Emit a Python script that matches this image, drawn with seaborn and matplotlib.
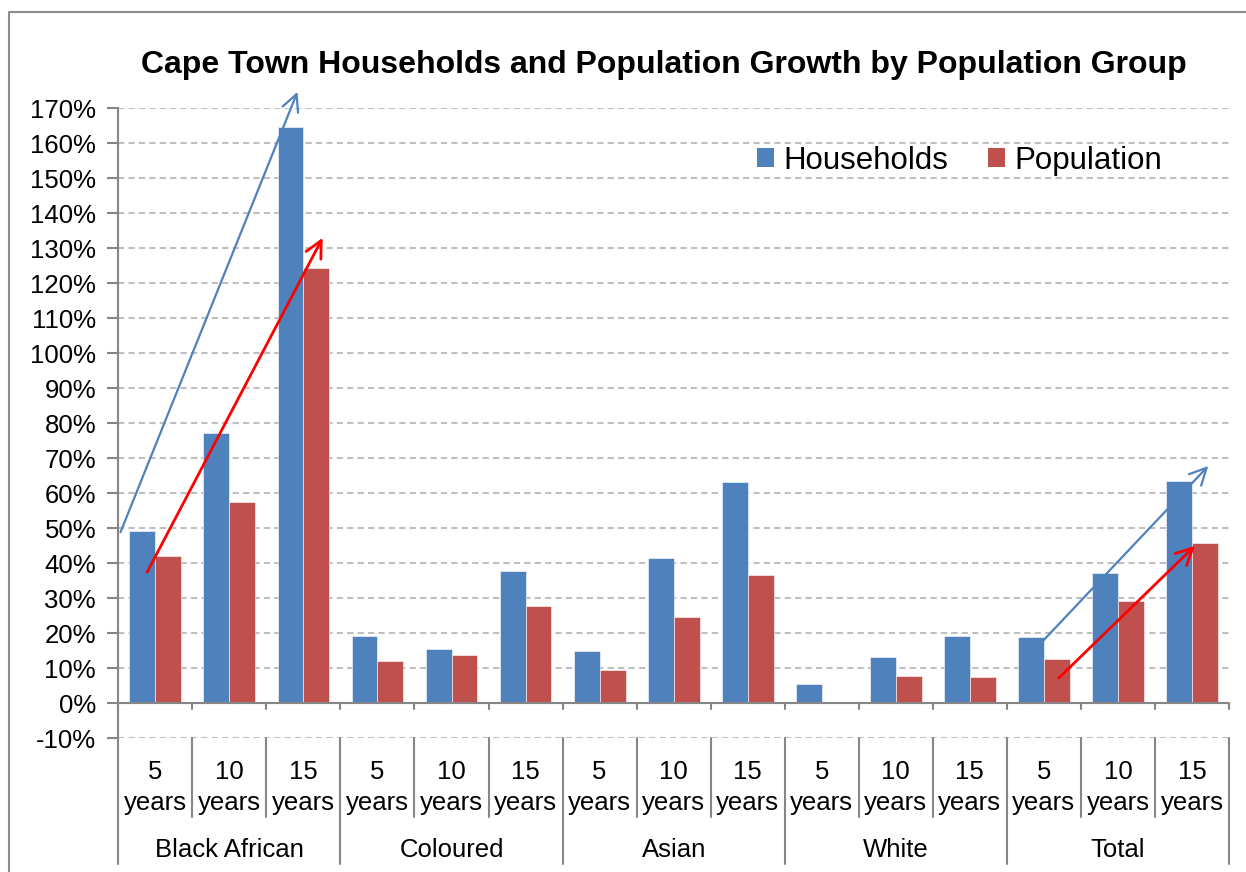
import matplotlib
matplotlib.use("Agg")
import matplotlib.pyplot as plt
import seaborn as sns
import pandas as pd
from matplotlib.patches import Patch
from matplotlib.lines import Line2D

# ---- data ----
groups = ["Black African", "Coloured", "Asian", "White", "Total"]
periods = ["5", "10", "15"]
households = [49.3, 77.1, 164.7, 19.3, 15.4, 37.9, 14.9, 41.6, 63.1, 5.4, 13.1, 19.2, 18.9, 37.2, 63.5]
population = [42.2, 57.6, 124.3, 12.2, 13.8, 27.8, 9.5, 24.7, 36.6, 0.0, 7.8, 7.6, 12.7, 29.1, 45.7]
series_names = ["Households", "Population"]
y_ticks = list(range(-10, 171, 10))
# trend arrows (data coords: category index, percent)
arrow_blue_ba = [(-0.47, 48.9), (1.92, 174.7)]
arrow_red_ba = [(-0.11, 37.5), (2.26, 133.0)]
arrow_blue_tot = [(11.87, 15.2), (14.22, 67.8)]
arrow_red_tot = [(12.20, 7.2), (14.04, 45.0)]

BLUE = "#4F81BD"
RED = "#C0504D"
GRID = "#BFBFBF"
AXC = "#868686"

cats = [f"{g}|{p}" for g in groups for p in periods]
rows = []
for c, h, p in zip(cats, households, population):
    rows.append({"cat": c, "series": series_names[0], "value": h})
    rows.append({"cat": c, "series": series_names[1], "value": p})
df = pd.DataFrame(rows)

sns.set_style("white")
plt.rcParams["font.family"] = ["Liberation Sans", "DejaVu Sans"]
plt.rcParams["text.color"] = "black"

W, H = 1246, 872
fig = plt.figure(figsize=(W / 100, H / 100), dpi=100)
ax = fig.add_axes([118.3 / W, (H - 738.3) / H, (1229 - 118.3) / W, 630 / H])

sns.barplot(data=df, x="cat", y="value", hue="series", order=cats,
            hue_order=series_names, palette=[BLUE, RED], width=0.7,
            saturation=1, ax=ax, legend=False, edgecolor="white", linewidth=0.4)

FS = 18.5
ax.set_xlim(-0.5, len(cats) - 0.5)
ax.set_ylim(-10, 170)
ax.set_yticks(y_ticks)
ax.set_yticklabels([f"{v}%" for v in y_ticks], fontsize=FS)
ax.tick_params(axis="y", length=8, width=1.5, color=AXC, pad=8, direction="out",
               left=True, labelcolor="black")
ax.set_xticks([])
ax.set_xlabel("")
ax.set_ylabel("")
ax.yaxis.grid(True, linestyle=(0, (3, 2)), color=GRID, lw=1.5)
ax.set_axisbelow(True)
for s in ["top", "right", "bottom"]:
    ax.spines[s].set_visible(False)
ax.spines["left"].set_color(AXC)
ax.spines["left"].set_linewidth(1.5)
ax.axhline(0, color=AXC, lw=1.5, zorder=3)

# tick marks under zero line and separators below the plot
trans = ax.get_xaxis_transform()
bounds = [i - 0.5 for i in range(len(cats) + 1)]
for i, b in enumerate(bounds):
    ax.plot([b, b], [0, -1.7], color=AXC, lw=1.5, clip_on=False, zorder=3)
    low = -0.199 if i % 3 == 0 else -0.125
    ax.plot([b, b], [low, 0], color=AXC, lw=1.5, transform=trans, clip_on=False)

# category labels
for i, c in enumerate(cats):
    g, p = c.split("|")
    ax.text(i, -0.0643, p, transform=trans, ha="center", va="baseline", fontsize=FS)
    ax.text(i, -0.1132, "years", transform=trans, ha="center", va="baseline", fontsize=FS)
for j, g in enumerate(groups):
    ax.text(j * 3 + 1, -0.188, g, transform=trans, ha="center", va="baseline", fontsize=FS)

# arrows
for (s, e), col, lw in [(arrow_blue_ba, BLUE, 1.6), (arrow_red_ba, "#FF0000", 2.0),
                        (arrow_blue_tot, BLUE, 1.6), (arrow_red_tot, "#FF0000", 2.0)]:
    ax.annotate("", xy=e, xytext=s,
                arrowprops=dict(arrowstyle="->", color=col, lw=lw, mutation_scale=30,
                                shrinkA=0, shrinkB=0),
                annotation_clip=False, zorder=5)

# legend
handles = [Patch(facecolor=BLUE, edgecolor="none"), Patch(facecolor=RED, edgecolor="none")]
fig.legend(handles, series_names, loc="center left", bbox_to_anchor=(757 / W, 1 - 160.7 / H),
           bbox_transform=fig.transFigure, ncol=2, frameon=False, fontsize=22.5,
           handlelength=0.55, handleheight=0.55, handletextpad=0.3, columnspacing=1.25,
           borderpad=0, borderaxespad=0)

# title
fig.text(664 / W, 1 - 65 / H, "Cape Town Households and Population Growth by Population Group",
         ha="center", va="center", fontsize=23, fontweight="bold", color="black")

# outer frame
fig.add_artist(Line2D([9 / W, 9 / W, 1.0], [0.0, 1 - 12 / H, 1 - 12 / H],
                      transform=fig.transFigure, color="#8C8C8C", lw=1.5))

fig.savefig("out.png", dpi=100)
